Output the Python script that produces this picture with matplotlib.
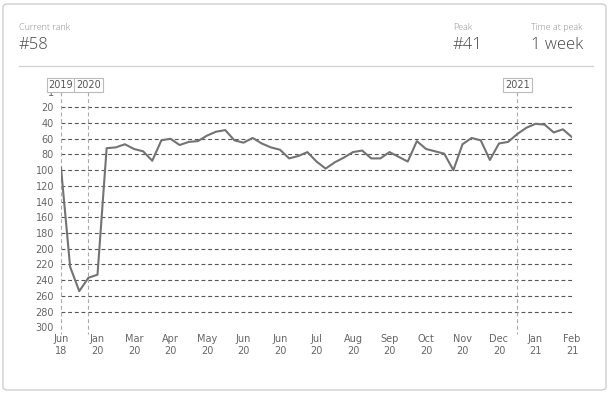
import matplotlib
matplotlib.use("Agg")
import matplotlib.pyplot as plt
import matplotlib.transforms as mtransforms
from matplotlib.patches import FancyBboxPatch
from matplotlib.lines import Line2D
import numpy as np

# weekly chart positions (lower = better)
ranks = [97, 223, 254, 237, 233, 72, 71, 67, 73, 76,
         88, 62, 60, 68, 64, 63, 56, 51, 49, 62,
         65, 59, 66, 71, 74, 85, 82, 77, 89, 98,
         90, 84, 77, 75, 85, 85, 77, 83, 89, 63,
         73, 76, 79, 100, 67, 59, 62, 87, 66, 64,
         54, 46, 41, 42, 52, 48, 58]
tick_labels = ["Jun\n18", "Jan\n20", "Mar\n20", "Apr\n20", "May\n20", "Jun\n20",
               "Jun\n20", "Jul\n20", "Aug\n20", "Sep\n20", "Oct\n20", "Nov\n20",
               "Dec\n20", "Jan\n21", "Feb\n21"]
year_labels = ["2019", "2020", "2021"]
year_index = [0, 3, 50]
y_ticks = [1] + list(range(20, 301, 20))

W, H = 609, 393
fig = plt.figure(figsize=(W / 100, H / 100), dpi=100)

# card frame (behind everything)
frame = FancyBboxPatch((3 / W, 3 / H), 603 / W, 386 / H,
                       boxstyle="round,pad=0,rounding_size=0.008",
                       transform=fig.transFigure, facecolor="white",
                       edgecolor="#cfcfcf", linewidth=1.0, zorder=-10)
fig.add_artist(frame)
fig.add_artist(Line2D([19 / W, 593 / W], [1 - 66 / H, 1 - 66 / H],
                      color="#d0d0d0", linewidth=0.9, zorder=-5))

# header texts
hdr_font = "Open Sans"
small_c, big_c = "#8c8c8c", "#444444"
fig.text(19 / W, 1 - 28 / H, "Current rank", fontsize=6.5, color=small_c,
         family=hdr_font, weight="light", va="center")
fig.text(19 / W, 1 - 45 / H, "#58", fontsize=12, color=big_c,
         family=hdr_font, weight="light", va="center")
fig.text(453 / W, 1 - 28 / H, "Peak", fontsize=6.5, color=small_c,
         family=hdr_font, weight="light", va="center")
fig.text(453 / W, 1 - 45 / H, "#41", fontsize=12, color=big_c,
         family=hdr_font, weight="light", va="center")
fig.text(531 / W, 1 - 28 / H, "Time at peak", fontsize=6.5, color=small_c,
         family=hdr_font, weight="light", va="center")
fig.text(531 / W, 1 - 45 / H, "1 week", fontsize=12, color=big_c,
         family=hdr_font, weight="light", va="center")

# chart axes
left, right = 61, 572
top, bottom = 92.4, 327.3
ax = fig.add_axes([left / W, 1 - bottom / H, (right - left) / W, (bottom - top) / H])
ax.set_facecolor("none")
x = np.arange(len(ranks))

for v in range(20, 281, 20):
    ax.axhline(v, color="#555555", linewidth=0.8, linestyle=(0, (3.5, 2.5)), zorder=1)

for i in year_index:
    ax.plot([i, i], [1, 308], color="#aaaaaa", linewidth=0.8,
            linestyle=(0, (3.5, 2.5)), zorder=1, clip_on=False)

ax.plot(x, ranks, color="#737373", linewidth=1.5, zorder=3)

ax.set_xlim(0, len(ranks) - 1)
ax.set_ylim(300, 1)
ax.set_yticks(y_ticks)
ax.set_yticklabels([str(t) for t in y_ticks])
ax.set_xticks(np.arange(0, len(ranks), 4))
ax.set_xticklabels(tick_labels)
ax.tick_params(axis="both", length=0, labelsize=7, colors="#666666")
ax.tick_params(axis="y", pad=5)
ax.tick_params(axis="x", pad=5)
for s in ax.spines.values():
    s.set_visible(False)

# year markers
trans = mtransforms.blended_transform_factory(ax.transData, fig.transFigure)
for lbl, i in zip(year_labels, year_index):
    ax.text(i, 1 - 85 / H, lbl, transform=trans, ha="center", va="center",
            fontsize=7, color="#555555", zorder=5, clip_on=False,
            bbox=dict(boxstyle="square,pad=0.22", facecolor="white",
                      edgecolor="#bbbbbb", linewidth=0.8))

fig.savefig("out.png", dpi=100)
